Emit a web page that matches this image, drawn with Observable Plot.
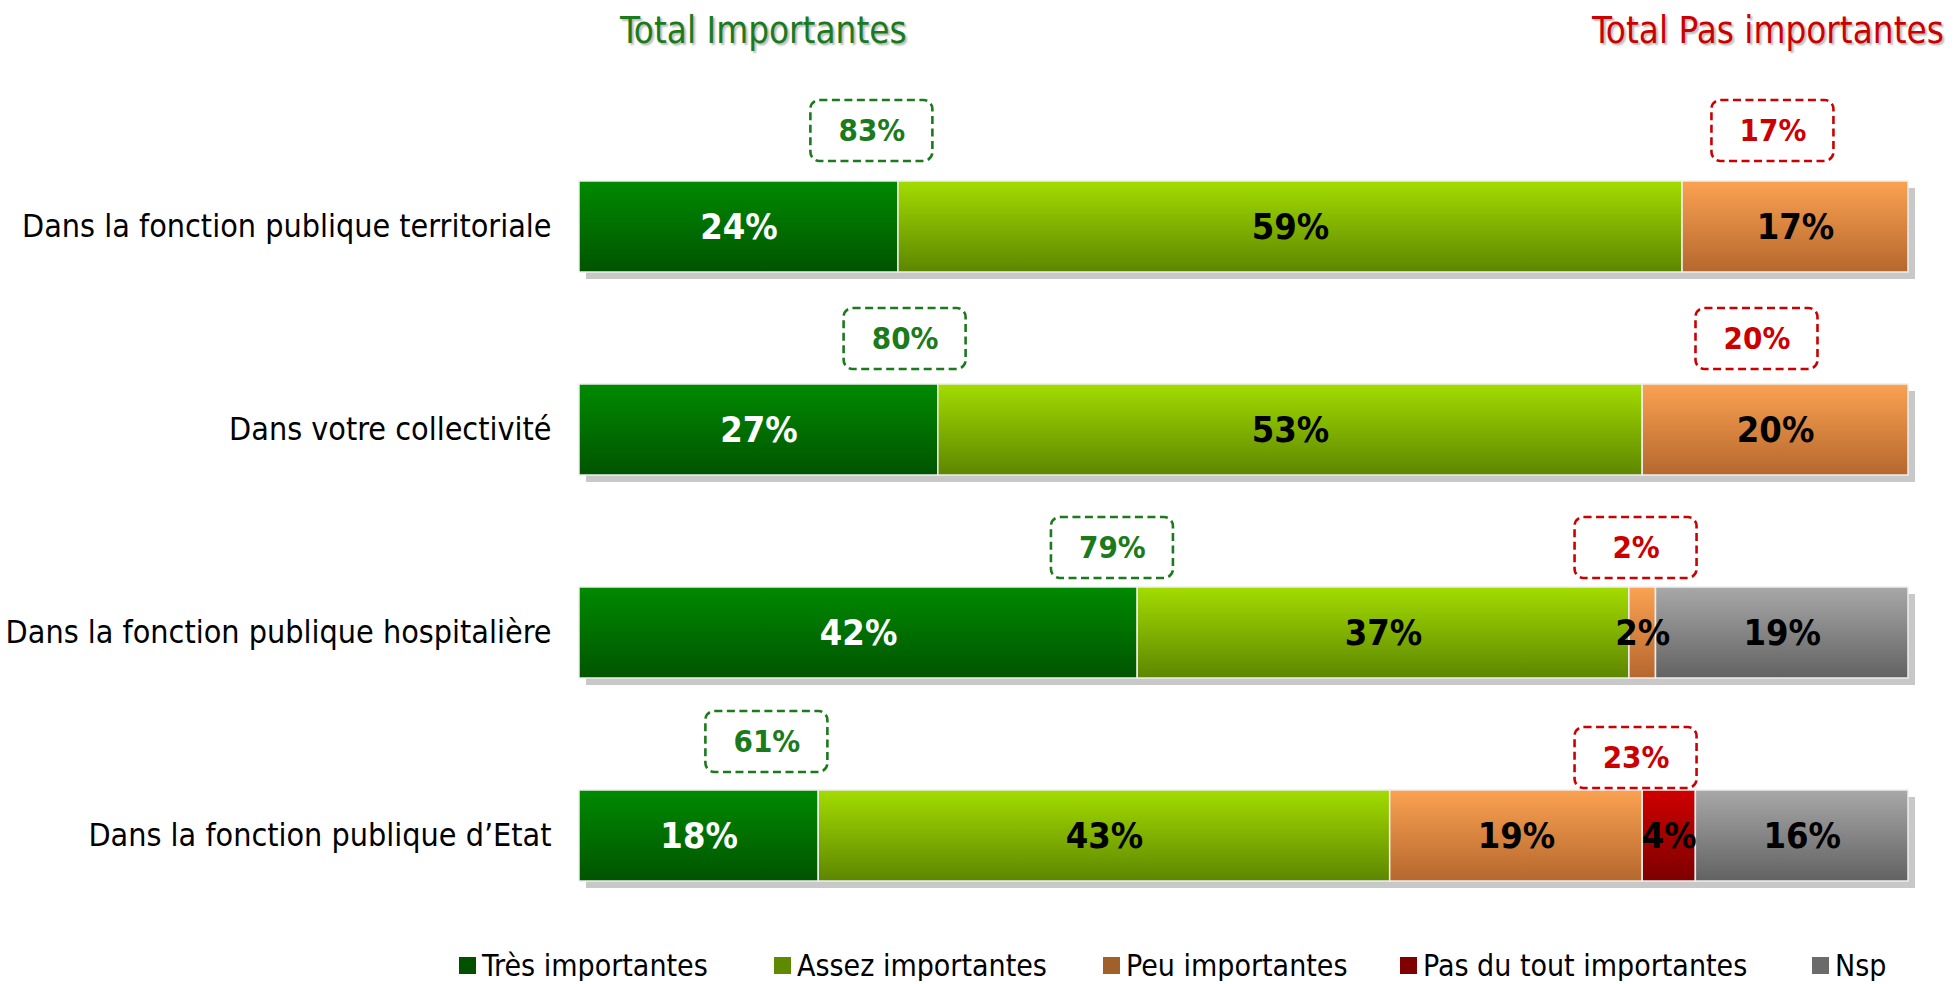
<!DOCTYPE html>
<html>
<head>
<meta charset="utf-8">
<script src="https://cdn.jsdelivr.net/npm/d3@7"></script>
<script src="https://cdn.jsdelivr.net/npm/@observablehq/plot@0.6"></script>
<style>
  html, body { margin: 0; padding: 0; background: #fff; overflow: hidden; }
  body { font-family: "DejaVu Sans Condensed", "DejaVu Sans", sans-serif; font-stretch: condensed; }
  #header { position: relative; height: 60px; }
  .ttl { position: absolute; top: 13px; font-size: 36.5px; line-height: 1; white-space: nowrap;
         text-shadow: 2px 2px 2px rgba(0,0,0,0.28); }
  #legend { position: relative; height: 30px; font-size: 30px; line-height: 1; }
  .lg { position: absolute; top: 0; display: flex; align-items: flex-start; white-space: nowrap; }
  .sw { width: 17px; height: 17px; margin-top: 6px; margin-right: 6px; }
</style>
</head>
<body>
<svg width="0" height="0" style="position:absolute">
  <defs>
    <linearGradient id="g0" x1="0" y1="0" x2="0" y2="1">
      <stop offset="0" stop-color="#008a00"/><stop offset="1" stop-color="#005400"/>
    </linearGradient>
    <linearGradient id="g1" x1="0" y1="0" x2="0" y2="1">
      <stop offset="0" stop-color="#a3dc00"/><stop offset="1" stop-color="#5d8600"/>
    </linearGradient>
    <linearGradient id="g2" x1="0" y1="0" x2="0" y2="1">
      <stop offset="0" stop-color="#fba252"/><stop offset="1" stop-color="#b5672d"/>
    </linearGradient>
    <linearGradient id="g3" x1="0" y1="0" x2="0" y2="1">
      <stop offset="0" stop-color="#cf0000"/><stop offset="1" stop-color="#7e0000"/>
    </linearGradient>
    <linearGradient id="g4" x1="0" y1="0" x2="0" y2="1">
      <stop offset="0" stop-color="#a8a8a8"/><stop offset="1" stop-color="#626262"/>
    </linearGradient>
  </defs>
</svg>
<div id="header">
  <span class="ttl" id="t1" style="left:620px;color:#1b7a1b;"></span>
  <span class="ttl" id="t2" style="left:1592px;color:#cc0000;"></span>
</div>
<div id="chart"></div>
<div id="legend"></div>
<script>
// ---- data ----
const categories = [
  "Dans la fonction publique territoriale",
  "Dans votre collectivité",
  "Dans la fonction publique hospitalière",
  "Dans la fonction publique d’Etat"
];
const seriesNames = ["Très importantes", "Assez importantes", "Peu importantes", "Pas du tout importantes", "Nsp"];
const tresImportantes   = [24, 27, 42, 18];
const assezImportantes  = [59, 53, 37, 43];
const peuImportantes    = [17, 20, 2, 19];
const pasDuTout         = [0, 0, 0, 4];
const nsp               = [0, 0, 19, 16];
const totalImportantes    = [83, 80, 79, 61];
const totalPasImportantes = [17, 20, 2, 23];
const groupTitles = ["Total Importantes", "Total Pas importantes"];

// ---- annotation layout (data units for x, pixels for vertical offsets) ----
const greenBoxX = [22.0, 24.5, 40.1, 14.1];
const redBoxX   = [89.8, 88.6, 79.5, 79.5];
const greenBoxAbove = [81, 76, 70, 79];
const redBoxAbove   = [81, 76, 70, 63];
const boxH = 61, boxHalfW = 61, bw = 91;

const seriesValues = [tresImportantes, assezImportantes, peuImportantes, pasDuTout, nsp];
const legendColors = ["#005000", "#5f8a00", "#a0602a", "#800000", "#6b6b6b"];

document.getElementById("t1").textContent = groupTitles[0];
document.getElementById("t2").textContent = groupTitles[1];

const rows = categories.map((label, i) => ({label, i}));
const segments = [];
categories.forEach((label, i) => {
  let cum = 0;
  seriesValues.forEach((vals, k) => {
    const v = vals[i];
    if (v > 0) segments.push({label, k, value: v, x1: cum, x2: cum + v});
    cum += v;
  });
});

const marks = [];
// shadow
marks.push(Plot.barX(rows, {x1: 0, x2: 100, y: "label", dx: 7, dy: 7, fill: "#c8c8c8"}));
// segments
seriesNames.forEach((name, k) => {
  marks.push(Plot.barX(segments.filter(d => d.k === k), {
    x1: "x1", x2: "x2", y: "label", fill: `url(#g${k})`, stroke: "#eeeeee", strokeWidth: 1.5
  }));
});
// value labels
marks.push(Plot.text(segments.filter(d => d.k === 0), {
  x: d => (d.x1 + d.x2) / 2, y: "label", text: d => d.value + "%",
  fill: "white", fontWeight: "bold", fontSize: 36
}));
marks.push(Plot.text(segments.filter(d => d.k !== 0), {
  x: d => (d.x1 + d.x2) / 2, y: "label", text: d => d.value + "%",
  fill: "black", fontWeight: "bold", fontSize: 36
}));
// total boxes
rows.forEach((r, i) => {
  const boxes = [
    {x: greenBoxX[i], above: greenBoxAbove[i], val: totalImportantes[i], color: "#1b7a1b"},
    {x: redBoxX[i], above: redBoxAbove[i], val: totalPasImportantes[i], color: "#cc0000"}
  ];
  boxes.forEach(b => {
    const d = [{label: r.label, x: b.x, val: b.val}];
    marks.push(Plot.rect(d, {
      x1: "x", x2: "x", y: "label",
      insetLeft: -boxHalfW, insetRight: -boxHalfW,
      insetTop: -b.above, insetBottom: bw + b.above - boxH,
      rx: 9, fill: "white", stroke: b.color, strokeWidth: 2.6, strokeDasharray: "8,4.5"
    }));
    marks.push(Plot.text(d, {
      x: "x", y: "label", text: d => d.val + "%",
      dy: -(bw / 2 + b.above - boxH / 2),
      fill: b.color, fontWeight: "bold", fontSize: 31
    }));
  });
});
marks.push(Plot.axisY({tickSize: 0, tickPadding: 28, fontSize: 32, fill: "black", label: null}));

const chart = Plot.plot({
  width: 1957,
  height: 891,
  marginLeft: 579,
  marginRight: 49,
  marginTop: 58,
  marginBottom: 8,
  x: {domain: [0, 100], axis: null},
  y: {domain: categories, paddingInner: 0.554, paddingOuter: 0.3, label: null, axis: null},
  style: {fontFamily: "'DejaVu Sans Condensed', 'DejaVu Sans', sans-serif", fontStretch: "condensed", background: "white", overflow: "visible"},
  marks
});
document.getElementById("chart").appendChild(chart);

// legend
const legendLeft = [459, 774, 1103, 1400, 1812];
const lg = document.getElementById("legend");
seriesNames.forEach((name, k) => {
  const item = document.createElement("div");
  item.className = "lg";
  item.style.left = legendLeft[k] + "px";
  const sw = document.createElement("div");
  sw.className = "sw";
  sw.style.background = legendColors[k];
  const t = document.createElement("span");
  t.textContent = name;
  item.appendChild(sw);
  item.appendChild(t);
  lg.appendChild(item);
});
</script>
</body>
</html>
